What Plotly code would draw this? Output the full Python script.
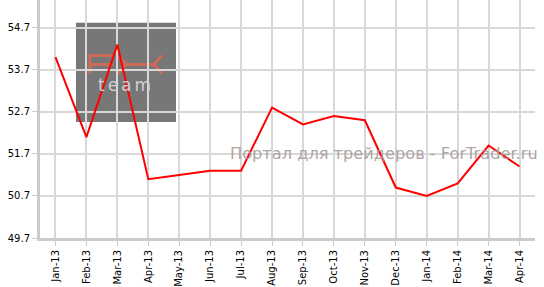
import plotly.graph_objects as go

months = ["Jan-13", "Feb-13", "Mar-13", "Apr-13", "May-13", "Jun-13", "Jul-13", "Aug-13",
          "Sep-13", "Oct-13", "Nov-13", "Dec-13", "Jan-14", "Feb-14", "Mar-14", "Apr-14"]
values = [54.0, 52.1, 54.3, 51.1, 51.2, 51.3, 51.3, 52.8,
          52.4, 52.6, 52.5, 50.9, 50.7, 51.0, 51.9, 51.4]
y_ticks = [49.7, 50.7, 51.7, 52.7, 53.7, 54.7]
y_tick_labels = ["49.7", "50.7", "51.7", "52.7", "53.7", "54.7"]
watermark = "Портал для трейдеров - ForTrader.ru"

W, H = 544, 287
L, R, T, B = 40, 9, 0, 47
pw, ph = W - L - R, H - T - B

def px(x):
    return (x - L) / pw

def py(y):
    return (H - B - y) / ph

fig = go.Figure()
fig.add_trace(go.Scatter(
    x=months, y=values, mode="lines",
    line=dict(color="#ff0000", width=2),
    hoverinfo="skip", showlegend=False,
))

shapes = [
    dict(type="rect", xref="paper", yref="paper", layer="below",
         x0=px(76), x1=px(176), y0=py(123), y1=py(23),
         fillcolor="#777777", line=dict(width=0)),
]
# stylised "FX" mark of the logo
logo_col = "#cf6a58"
def path(pts):
    return "M " + " L ".join(f"{px(a)},{py(b)}" for a, b in pts)
for pts in [
    [(114, 56), (90, 56), (90, 74)],
    [(90, 65), (113, 65)],
    [(118, 56), (126, 65), (118, 74)],
    [(162, 56), (154, 65), (162, 74)],
    [(126, 65), (154, 65)],
]:
    shapes.append(dict(type="path", xref="paper", yref="paper", layer="below",
                       path=path(pts), line=dict(color=logo_col, width=3)))

annotations = [
    dict(text='<span style="letter-spacing:3px">team</span>', xref="paper", yref="paper",
         x=px(126), y=py(86), xanchor="center", yanchor="middle", showarrow=False,
         font=dict(family="DejaVu Sans", size=17, color="#d0d0d0")),
    dict(text=watermark, xref="paper", yref="paper",
         x=px(228), y=py(155), xanchor="left", yanchor="middle", showarrow=False,
         font=dict(family="DejaVu Sans", size=16.2, color="#a89c9c"), opacity=0.9),
]

fig.update_layout(
    width=W, height=H,
    margin=dict(l=L, r=R, t=T, b=B, pad=0),
    paper_bgcolor="white",
    plot_bgcolor="rgba(0,0,0,0)",
    font=dict(family="DejaVu Sans", size=10, color="#000000"),
    shapes=shapes,
    annotations=annotations,
    showlegend=False,
)
fig.update_xaxes(
    type="category", categoryorder="array", categoryarray=months,
    range=[-0.5, len(months) - 0.5],
    showgrid=True, gridcolor="#d8d8d8", gridwidth=2,
    showline=True, linecolor="#cccccc", linewidth=3,
    ticks="outside", ticklen=5, tickcolor="#cccccc", tickwidth=1,
    tickangle=-90, tickfont=dict(size=10, color="#000000"),
    zeroline=False,
)
fig.update_yaxes(
    range=[49.7, 49.7 + ph / 42.4],
    tickmode="array", tickvals=y_ticks, ticktext=y_tick_labels,
    showgrid=True, gridcolor="#d8d8d8", gridwidth=2,
    showline=True, linecolor="#cccccc", linewidth=3,
    ticks="outside", ticklen=5, tickcolor="#cccccc", tickwidth=1,
    tickfont=dict(size=10, color="#000000"),
    zeroline=False,
)

fig.write_html("out.html")
